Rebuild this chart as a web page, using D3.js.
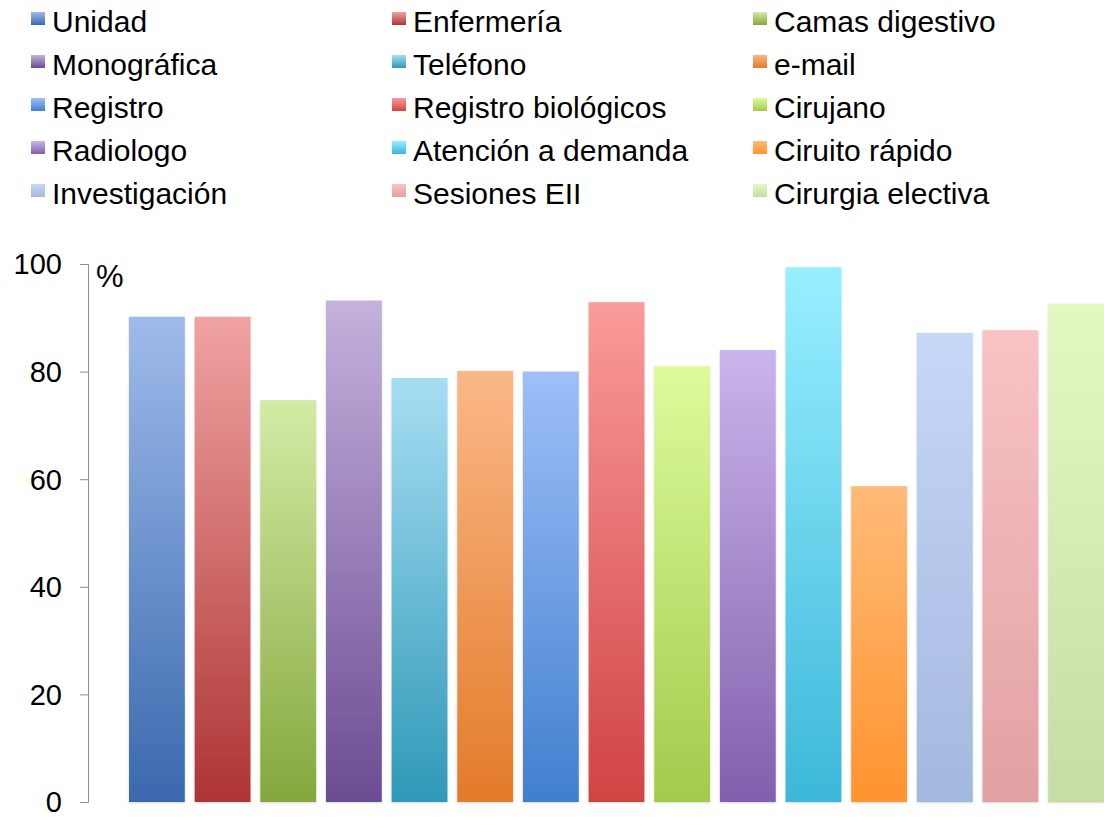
<!DOCTYPE html>
<html>
<head>
<meta charset="utf-8">
<script src="https://cdn.jsdelivr.net/npm/d3@7"></script>
<style>
  html, body { margin: 0; padding: 0; background: #fff; }
  svg { display: block; }
</style>
</head>
<body>
<script>
// -----------------------------
// Data
// -----------------------------
const categories = [
  "Unidad", "Enfermería", "Camas digestivo",
  "Monográfica", "Teléfono", "e-mail",
  "Registro", "Registro biológicos", "Cirujano",
  "Radiologo", "Atención a demanda", "Ciruito rápido",
  "Investigación", "Sesiones EII", "Cirurgia electiva"
];
const values = [90.2, 90.2, 74.7, 93.2, 78.8, 80.1, 80, 92.9, 81, 84, 99.4, 58.7, 87.2, 87.7, 92.6];
const yTicks = [0, 20, 40, 60, 80, 100];

// gradient stops per bar (top, bottom)
const topColors = [
  "#9fbbeb", "#f0a3a2", "#d4eba5", "#c4b1dc", "#a6def3", "#fbb787",
  "#9ebff8", "#fb9b9b", "#ddfb9c", "#c9b5eb", "#98efff", "#ffbb78",
  "#c6d7f8", "#f9c3c3", "#e4f9c2"
];
const bottomColors = [
  "#3969ad", "#ae3434", "#85a73d", "#6b4c93", "#2f99b7", "#e37b29",
  "#417fcf", "#d14343", "#a4ca4b", "#835fad", "#3cb7d9", "#ff932e",
  "#a4b7de", "#e1a1a3", "#c5dca5"
];

// -----------------------------
// SVG Setup
// -----------------------------
const WIDTH = 1104;
const HEIGHT = 817;
const FONT = "'Liberation Sans', Arial, sans-serif";

const svg = d3.select("body")
  .append("svg")
  .attr("width", WIDTH)
  .attr("height", HEIGHT)
  .attr("viewBox", `0 0 ${WIDTH} ${HEIGHT}`);

const defs = svg.append("defs");

// soft shadow under the bars
defs.append("filter")
  .attr("id", "bar-shadow")
  .attr("x", "-10%").attr("y", "-5%")
  .attr("width", "120%").attr("height", "110%")
  .append("feDropShadow")
  .attr("dx", 0)
  .attr("dy", 1)
  .attr("stdDeviation", 1.2)
  .attr("flood-color", "#888")
  .attr("flood-opacity", 0.35);

// one vertical gradient per category
categories.forEach((c, i) => {
  const g = defs.append("linearGradient")
    .attr("id", `grad-${i}`)
    .attr("x1", 0).attr("y1", 0)
    .attr("x2", 0).attr("y2", 1);
  g.append("stop").attr("offset", "0%").attr("stop-color", topColors[i]);
  g.append("stop").attr("offset", "100%").attr("stop-color", bottomColors[i]);
});

// -----------------------------
// Scales
// -----------------------------
const y = d3.scaleLinear()
  .domain([0, 100])
  .range([802, 264]);

const x = d3.scaleBand()
  .domain(categories)
  .range([129, 1104])
  .paddingInner(0.15)
  .paddingOuter(0);

// -----------------------------
// Axis
// -----------------------------
const yAxis = d3.axisLeft(y)
  .tickValues(yTicks)
  .tickSize(8)
  .tickPadding(18)
  .tickFormat(d3.format("d"));

const axisG = svg.append("g")
  .attr("transform", "translate(88,0)")
  .call(yAxis);

axisG.select(".domain")
  .attr("stroke", "#8e8e8e")
  .attr("stroke-width", 1);

axisG.selectAll(".tick line")
  .attr("stroke", "#8e8e8e");

axisG.selectAll(".tick text")
  .attr("font-family", FONT)
  .attr("font-size", 29)
  .attr("dy", "0.34em")
  .attr("fill", "#000");

svg.append("text")
  .attr("x", 96)
  .attr("y", 287)
  .attr("font-family", FONT)
  .attr("font-size", 31)
  .attr("fill", "#000")
  .text("%");

// -----------------------------
// Bars
// -----------------------------
svg.append("g")
  .selectAll("rect")
  .data(categories)
  .enter()
  .append("rect")
  .attr("x", d => x(d))
  .attr("y", (d, i) => y(values[i]))
  .attr("width", x.bandwidth())
  .attr("height", (d, i) => y(0) - y(values[i]))
  .attr("fill", (d, i) => `url(#grad-${i})`)
  .attr("filter", "url(#bar-shadow)");

// -----------------------------
// Legend
// -----------------------------
const LEGEND_COLS = [31, 392, 753];
const LEGEND_Y0 = 32;
const LEGEND_ROW = 43;

const legend = svg.append("g")
  .selectAll("g")
  .data(categories)
  .enter()
  .append("g")
  .attr("transform", (d, i) =>
    `translate(${LEGEND_COLS[i % 3]},${LEGEND_Y0 + Math.floor(i / 3) * LEGEND_ROW})`);

legend.append("rect")
  .attr("x", 0)
  .attr("y", -20)
  .attr("width", 14)
  .attr("height", 13)
  .attr("fill", (d, i) => `url(#grad-${i})`);

legend.append("text")
  .attr("x", 21)
  .attr("y", 0)
  .attr("font-family", FONT)
  .attr("font-size", 30)
  .attr("fill", "#000")
  .text(d => d);
</script>
</body>
</html>
